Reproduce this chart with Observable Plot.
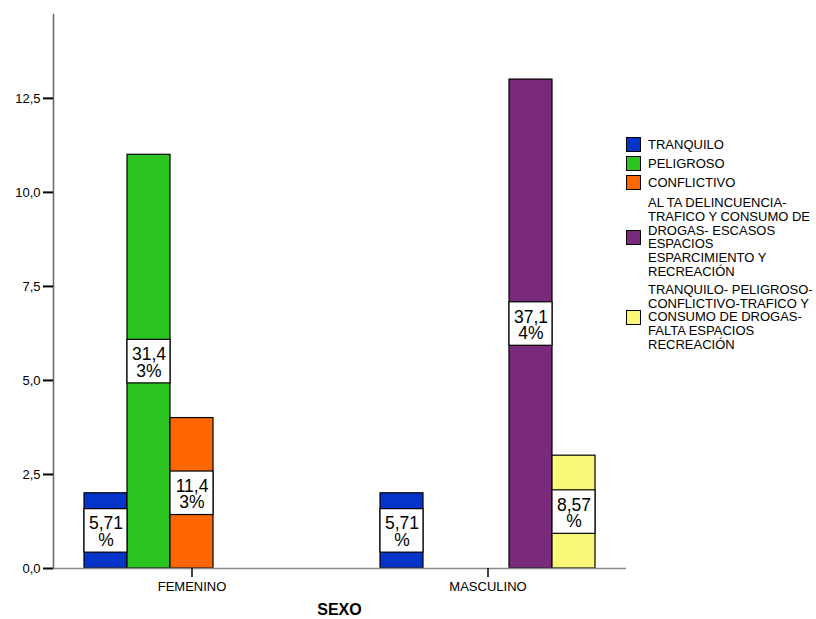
<!DOCTYPE html>
<html><head><meta charset="utf-8">
<script src="https://cdn.jsdelivr.net/npm/d3@7"></script>
<script src="https://cdn.jsdelivr.net/npm/@observablehq/plot@0.6"></script>
<style>
html,body{margin:0;padding:0;background:#fff;}
#wrap{position:relative;width:816px;height:619px;font-family:Arial,"Liberation Sans",sans-serif;overflow:hidden;}
#legend{position:absolute;left:626px;top:137px;font-size:13px;line-height:13.8px;color:#000;}
.item{display:flex;align-items:center;margin-bottom:4px;}
.sw{width:15px;height:15px;box-sizing:border-box;border:1px solid #000;margin-right:7px;flex:none;}
.lab{white-space:pre;}
#xtitle{position:absolute;left:53px;width:573px;text-align:center;top:602px;line-height:16px;font-weight:bold;font-size:16px;color:#000;}
</style></head>
<body><div id="wrap"><div id="chart"></div><div id="legend"></div><div id="xtitle">SEXO</div></div>
<script>
const sexes = ["FEMENINO", "MASCULINO"];
const categories = [
  "TRANQUILO",
  "PELIGROSO",
  "CONFLICTIVO",
  "AL TA DELINCUENCIA-TRAFICO Y CONSUMO DE DROGAS- ESCASOS ESPACIOS ESPARCIMIENTO Y RECREACIÓN",
  "TRANQUILO- PELIGROSO-CONFLICTIVO-TRAFICO Y CONSUMO DE DROGAS-FALTA ESPACIOS RECREACIÓN"
];
const legendLabels = [
  "TRANQUILO",
  "PELIGROSO",
  "CONFLICTIVO",
  "AL TA DELINCUENCIA-\nTRAFICO Y CONSUMO DE\nDROGAS- ESCASOS\nESPACIOS\nESPARCIMIENTO Y\nRECREACIÓN",
  "TRANQUILO- PELIGROSO-\nCONFLICTIVO-TRAFICO Y\nCONSUMO DE DROGAS-\nFALTA ESPACIOS\nRECREACIÓN"
];
const colors = ["#0634c8", "#2cc421", "#ff6600", "#7a2a7a", "#faf877"];
const femeninoCounts = [2, 11, 4, 0, 0];
const masculinoCounts = [2, 0, 0, 13, 3];
const femeninoPct = [5.71, 31.43, 11.43, 0, 0];
const masculinoPct = [5.71, 0, 0, 37.14, 8.57];
const yTicks = [0, 2.5, 5, 7.5, 10, 12.5];
const yMax = 14.73;

const rows = [];
sexes.forEach((s, si) => {
  const counts = si === 0 ? femeninoCounts : masculinoCounts;
  const pct = si === 0 ? femeninoPct : masculinoPct;
  categories.forEach((c, ci) => {
    if (counts[ci] > 0) rows.push({sexo: s, cat: c, value: counts[ci], pct: pct[ci]});
  });
});
const fmtPct = p => { const s = p.toFixed(2).replace(".", ",") + "%"; return s.slice(0, 4) + "\n" + s.slice(4); };

const chart = Plot.plot({
  width: 816, height: 619,
  marginLeft: 53, marginRight: 190, marginTop: 14, marginBottom: 51,
  style: {fontFamily: 'Arial, "Liberation Sans", sans-serif', fontSize: "13px", background: "white", color: "black"},
  fx: {domain: sexes, paddingInner: 0.0642, paddingOuter: 0, label: null},
  x: {domain: categories, paddingInner: 0, paddingOuter: 0.662, axis: null},
  y: {domain: [0, yMax]},
  color: {domain: categories, range: colors},
  marks: [
    Plot.barY(rows, {fx: "sexo", x: "cat", y: "value", fill: "cat", stroke: "#000", strokeWidth: 1.2}),
    Plot.barY(rows, {fx: "sexo", x: "cat", y1: d => d.value / 2, y2: d => d.value / 2, insetTop: -21.75, insetBottom: -21.75, fill: "white", stroke: "#000", strokeWidth: 1.2}),
    Plot.text(rows, {fx: "sexo", x: "cat", y: d => d.value / 2, text: d => fmtPct(d.pct), fontSize: 17.5, lineHeight: 0.95, dy: 1.5, fill: "#000"}),
    Plot.frame({anchor: "left", facetAnchor: "left", stroke: "#666", strokeWidth: 1.5}),
    Plot.ruleY([{sexo: "FEMENINO", v: 0}], {fx: "sexo", y: "v", insetRight: -19, stroke: "#888", strokeWidth: 1.5}),
    Plot.ruleY([{sexo: "MASCULINO", v: 0}], {fx: "sexo", y: "v", stroke: "#888", strokeWidth: 1.5}),
    Plot.axisY({ticks: yTicks, tickFormat: d => d.toFixed(1).replace(".", ","), tickSize: 10, tickPadding: 3, strokeWidth: 2, label: null}),
    Plot.axisFx({anchor: "bottom", tickSize: 9, tickPadding: 4.5, label: null, strokeWidth: 1.5})
  ]
});
document.getElementById("chart").appendChild(chart);

const legend = document.getElementById("legend");
categories.forEach((c, i) => {
  const item = document.createElement("div");
  item.className = "item";
  if (i === 3) item.style.marginTop = "6px";
  if (i === 4) item.style.marginTop = "2px";
  const sw = document.createElement("div");
  sw.className = "sw";
  sw.style.background = colors[i];
  const lab = document.createElement("div");
  lab.className = "lab";
  lab.textContent = legendLabels[i];
  item.appendChild(sw);
  item.appendChild(lab);
  legend.appendChild(item);
});
</script>
</body></html>
